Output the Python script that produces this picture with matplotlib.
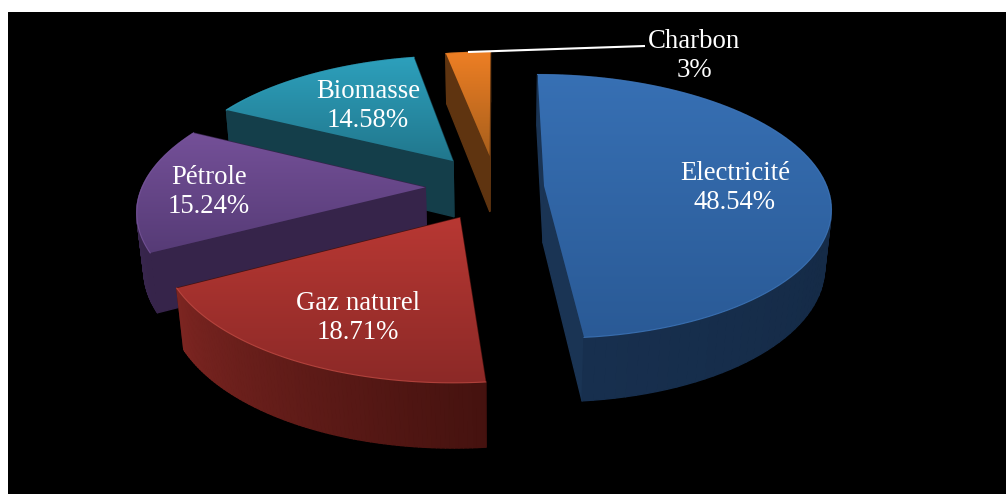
import numpy as np
import matplotlib
matplotlib.use("Agg")
import matplotlib.pyplot as plt
from matplotlib.collections import PolyCollection
from matplotlib.colors import LinearSegmentedColormap, to_rgb
from matplotlib.patches import Polygon

# data
names = ["Electricité", "Gaz naturel", "Pétrole", "Biomasse", "Charbon"]
values = [48.54, 18.71, 15.24, 14.58, 3]

# styles
explode = [0.17, 0.26, 0.25, 0.26, 0.25]
top_colors = [("#3770b4", "#2a5a96"), ("#b83833", "#8c2927"), ("#745098", "#563b76"),
              ("#2da0bc", "#21778d"), ("#ee7f24", "#a85f1c")]
side_colors = [("#172f4e", "#11233a"), ("#7c2521", "#45120f"), ("#3e2b58", "#36244a"),
               ("#17434f", "#143e4a"), ("#613510", "#613510")]
wall_colors = ["#1a3454", "#45120f", "#36244a", "#143e4a", "#5f3410"]
rim_colors = ["#3f78bd", "#c04a43", "#7a579e", "#2da0bc", "#ee7f24"]
label_pos = [(735, 188), (358, 318), (209, 192), (368, 106), (694, 56)]

# projection of the tilted pie onto the picture
CX, CY, RX, RY = 496, 187, 283, 129
P, Q, HEIGHT = 0.155, 0.02, 58


def project(x, y, z=0):
    s = 1 / (1 + P * y + Q * z)
    return CX + RX * x * s, CY + (-RY * y + HEIGHT * z) * s


fig = plt.figure(figsize=(10.06, 4.94), dpi=100, facecolor="white")
ax = fig.add_axes([8 / 1006, 0, 998 / 1006, 482 / 494], facecolor="black")

fracs = np.array(values) / sum(values)
ends = np.cumsum(fracs) * 2 * np.pi
starts = ends - fracs * 2 * np.pi

# back slices first
mids = (starts + ends) / 2
order = sorted(range(len(values)), key=lambda i: -np.cos(mids[i]) * explode[i])
z_level = 1
for i in order:
    ox = np.sin(mids[i]) * explode[i]
    oy = np.cos(mids[i]) * explode[i]
    theta = np.linspace(starts[i], ends[i], 90)
    xs = ox + np.sin(theta)
    ys = oy + np.cos(theta)

    faces = []
    # flat cut faces
    for xe, ye in [(xs[0], ys[0]), (xs[-1], ys[-1])]:
        quad = [project(ox, oy), project(xe, ye), project(xe, ye, 1), project(ox, oy, 1)]
        faces.append((quad, wall_colors[i], (oy + ye) / 2))
    # curved outer face
    c0, c1 = np.array(to_rgb(side_colors[i][0])), np.array(to_rgb(side_colors[i][1]))
    for k in range(len(theta) - 1):
        t = k / (len(theta) - 2)
        quad = [project(xs[k], ys[k]), project(xs[k + 1], ys[k + 1]),
                project(xs[k + 1], ys[k + 1], 1), project(xs[k], ys[k], 1)]
        # dark end of the side is toward the slice start for lower slices
        col = c1 + (c0 - c1) * t if i < 3 else c0 + (c1 - c0) * t
        faces.append((quad, tuple(col), (ys[k] + ys[k + 1]) / 2))
    faces.sort(key=lambda f: -f[2])
    pc = PolyCollection([f[0] for f in faces], facecolors=[f[1] for f in faces],
                        edgecolors=[f[1] for f in faces], linewidths=1.0, zorder=z_level)
    ax.add_collection(pc)
    z_level += 1

    # top face with vertical gradient
    outline = [project(ox, oy)] + [project(a, b) for a, b in zip(xs, ys)]
    outline = np.array(outline)
    cmap = LinearSegmentedColormap.from_list("top", top_colors[i])
    im = ax.imshow(np.linspace(0, 1, 256).reshape(-1, 1), cmap=cmap, aspect="auto",
                   extent=(outline[:, 0].min(), outline[:, 0].max(),
                           outline[:, 1].max(), outline[:, 1].min()),
                   zorder=z_level)
    clip = Polygon(outline, closed=True, transform=ax.transData)
    im.set_clip_path(clip)
    arc = outline[1:]
    ax.plot(arc[:, 0], arc[:, 1], color=rim_colors[i], lw=0.8, alpha=0.8, zorder=z_level + 1)
    z_level += 2

# leader line of the small slice
ax.plot([468, 645], [52, 46], color="white", lw=1.5, zorder=z_level, solid_capstyle="butt")

for name, val, pos in zip(names, values, label_pos):
    ax.text(pos[0], pos[1], f"{name}\n{val:g}%", color="white", ha="center", va="center",
            family="Liberation Serif", fontsize=19.3, linespacing=1.23, zorder=z_level + 1)

ax.set_xlim(8, 1006)
ax.set_ylim(494, 12)
ax.axis("off")
ax.add_artist(plt.Rectangle((8, 12), 998, 482, color="black", zorder=0))

fig.savefig("out.png", dpi=100, facecolor="white")
